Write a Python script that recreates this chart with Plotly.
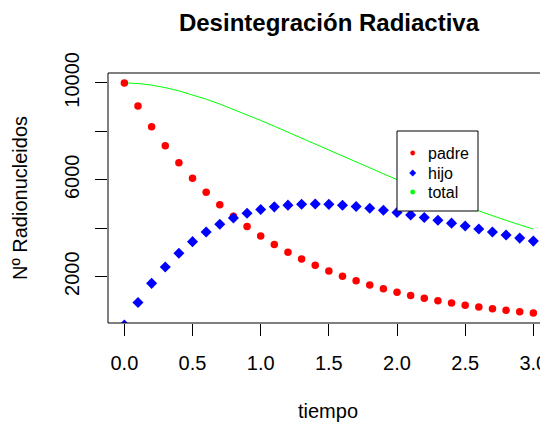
import plotly.graph_objects as go

# ---- data ----
tiempo = [0.0, 0.1, 0.2, 0.3, 0.4, 0.5, 0.6, 0.7, 0.8, 0.9, 1.0,
          1.1, 1.2, 1.3, 1.4, 1.5, 1.6, 1.7, 1.8, 1.9, 2.0,
          2.1, 2.2, 2.3, 2.4, 2.5, 2.6, 2.7, 2.8, 2.9, 3.0]
padre = [10000, 9048, 8187, 7408, 6703, 6065, 5488, 4966, 4493, 4066, 3679,
         3329, 3012, 2725, 2466, 2231, 2019, 1827, 1653, 1496, 1353,
         1225, 1108, 1003, 907, 821, 743, 672, 608, 550, 498]
hijo = [0, 928, 1722, 2398, 2968, 3445, 3840, 4162, 4420, 4621, 4773,
        4882, 4952, 4990, 5000, 4985, 4949, 4895, 4825, 4743, 4651,
        4550, 4441, 4328, 4209, 4088, 3965, 3841, 3716, 3591, 3467]
total = [10000, 9976, 9909, 9806, 9671, 9510, 9328, 9128, 8913, 8687, 8452,
         8211, 7964, 7715, 7466, 7216, 6968, 6722, 6478, 6239, 6004,
         5775, 5549, 5331, 5116, 4909, 4708, 4513, 4324, 4141, 3965]
x_ticks = [0.0, 0.5, 1.0, 1.5, 2.0, 2.5, 3.0]
x_tick_labels = ["0.0", "0.5", "1.0", "1.5", "2.0", "2.5", "3.0"]
y_ticks = [2000, 4000, 6000, 8000, 10000]
y_tick_labels = ["2000", "", "6000", "", "10000"]
legend_labels = ["padre", "hijo", "total"]

FONT = "Liberation Sans, Arial, sans-serif"
RED, BLUE, GREEN = "#FF0000", "#0000FF", "#00FF00"

OFF = 8  # default page body margin
W, H = 548 - OFF, 423 - OFF
L, T, B, R = 108 - OFF, 73 - OFF, 100, 0
PW, PH = W - L - R, H - T - B


def px(xp):  # window pixel -> paper
    return (xp - OFF - L) / PW


def py(yp):
    return (T + PH - (yp - OFF)) / PH


fig = go.Figure()
fig.add_trace(go.Scatter(x=tiempo, y=total, mode="lines",
                         line=dict(color=GREEN, width=1), name="total"))
fig.add_trace(go.Scatter(x=tiempo, y=padre, mode="markers",
                         marker=dict(color=RED, size=7.5, symbol="circle"),
                         name="padre"))
fig.add_trace(go.Scatter(x=tiempo, y=hijo, mode="markers",
                         marker=dict(color=BLUE, size=8.5, symbol="diamond"),
                         name="hijo"))

shapes = [dict(type="rect", xref="paper", yref="paper",
               x0=0, x1=px(550.4), y0=0, y1=1,
               line=dict(color="black", width=1))]

# manual legend
lx0, lx1, ly0, ly1 = 397, 478, 131, 211
shapes.append(dict(type="rect", xref="paper", yref="paper",
                   x0=px(lx0), x1=px(lx1), y0=py(ly1), y1=py(ly0),
                   line=dict(color="black", width=1), fillcolor="white",
                   layer="above"))
leg_y = [153, 173, 192]
leg_col = [RED, BLUE, GREEN]
annotations = []
for lab, yy, col in zip(legend_labels, leg_y, leg_col):
    cx = 412.7
    if lab == "hijo":
        d = 3.2
        path = (f"M {px(cx - d)} {py(yy)} L {px(cx)} {py(yy - d)} "
                f"L {px(cx + d)} {py(yy)} L {px(cx)} {py(yy + d)} Z")
        shapes.append(dict(type="path", xref="paper", yref="paper", path=path,
                           fillcolor=col, line=dict(color=col, width=0.5),
                           layer="above"))
    else:
        r = 2.2
        shapes.append(dict(type="circle", xref="paper", yref="paper",
                           x0=px(cx - r), x1=px(cx + r),
                           y0=py(yy + r), y1=py(yy - r),
                           fillcolor=col, line=dict(color=col, width=0.5),
                           layer="above"))
    annotations.append(dict(text=lab, xref="paper", yref="paper",
                            x=px(426), y=py(yy), xanchor="left",
                            yanchor="middle", showarrow=False,
                            font=dict(family=FONT, size=16, color="black")))

fig.update_layout(
    width=W, height=H,
    margin=dict(l=L, r=R, t=T, b=B, autoexpand=False),
    paper_bgcolor="white", plot_bgcolor="white",
    showlegend=False,
    font=dict(family=FONT, size=20, color="black"),
    title=dict(text="<b>Desintegración Radiactiva</b>",
               font=dict(family=FONT, size=24, color="black"),
               xref="container", x=(329 - OFF) / W, xanchor="center",
               yref="container", y=1 - (23 - OFF) / H, yanchor="middle"),
    shapes=shapes,
    annotations=annotations,
    xaxis=dict(range=[-0.12, 3.1075], tickvals=x_ticks, ticktext=x_tick_labels,
               ticks="outside", ticklen=12, tickwidth=1, tickcolor="black",
               showgrid=False, zeroline=False, showline=False,
               ticklabelstandoff=10,
               title=dict(text="tiempo", standoff=30,
                          font=dict(family=FONT, size=20))),
    yaxis=dict(range=[85, 10410], tickvals=y_ticks, ticktext=y_tick_labels,
               ticks="outside", ticklen=12, tickwidth=1, tickcolor="black",
               tickangle=-90, showgrid=False, zeroline=False, showline=False,
               ticklabelstandoff=8,
               title=dict(text="Nº Radionucleidos", standoff=28,
                          font=dict(family=FONT, size=20))),
)

fig.write_html("out.html")
